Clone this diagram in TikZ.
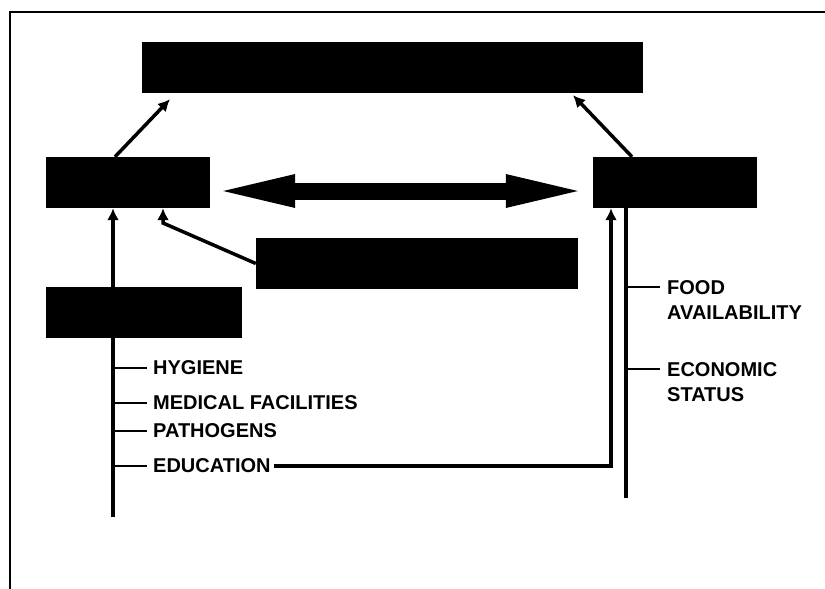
\documentclass[tikz,border=0pt]{standalone}
\usepackage{fontspec}
\setmainfont{Liberation Sans}
\usetikzlibrary{arrows.meta}

\tikzset{
  blk/.style={fill=black, inner sep=0pt, minimum height=51pt},
  lbl/.style={font=\bfseries\fontsize{20}{25}\selectfont, inner sep=0pt, align=left},
  stem/.style={line width=3.5pt},
  tick/.style={line width=2.2pt},
}

\begin{document}
\begin{tikzpicture}[x=1pt, y=-1pt, >={Latex[length=12pt, width=12pt]}]
\useasboundingbox (0,0) rectangle (825,589);
% cadre
\draw[line width=2.2pt] (10,589) -- (10,12) -- (825,12);

% boites
\node[blk, minimum width=501pt] (top) at (392.5,67.5) {};
\node[blk, minimum width=164pt] (lhs) at (128,182.5) {};
\node[blk, minimum width=164pt] (rhs) at (675,182.5) {};
\node[blk, minimum width=322pt] (mid) at (417,263.5) {};
\node[blk, minimum width=196pt] (base) at (144,312.5) {};

% fleches vers le haut
\draw[stem,->] ([xshift=-13pt]lhs.north) -- ([shift={(-222.5,6)}]top.south);
\draw[stem,->] ([xshift=-43pt]rhs.north) -- ([shift={(180.5,2)}]top.south);

% double fleche
\draw[line width=17pt, {Triangle[length=72pt, width=34pt, line width=0pt]}-{Triangle[length=72pt, width=34pt, line width=0pt]},
      shorten <=13pt, shorten >=15pt] ([yshift=-8.5pt]lhs.east) -- ([yshift=-8.5pt]rhs.west);

% colonne de gauche
\coordinate (lstem) at (113,517);
\draw[stem,->] (lstem) -- (lstem |- lhs.south);
\coordinate (bend) at (163,223);
\draw[stem,->] (mid.west) -- (bend) -- (bend |- lhs.south);

\foreach \nm/\y/\txt in {hyg/368/HYGIENE, med/403/MEDICAL FACILITIES, path/431/PATHOGENS, edu/466/EDUCATION} {
  \node[lbl, anchor=west] (\nm) at (153,\y) {\txt};
  \draw[tick] (lstem |- \nm.west) -- ([xshift=-6pt]\nm.west);
}
\draw[stem,->] ([xshift=3pt]edu.east) -| ([xshift=-64pt]rhs.south);

% colonne de droite
\coordinate (rstem) at (626,498);
\draw[stem] (rstem |- rhs.south) -- (rstem);
\node[lbl, anchor=north west] (food) at (667,280) {FOOD\\AVAILABILITY};
\node[lbl, anchor=north west] (econ) at (667,362) {ECONOMIC\\STATUS};
\draw[tick] (food.north west) ++(-7,7) -- ++(-33,0);
\draw[tick] (econ.north west) ++(-7,7) -- ++(-33,0);
\end{tikzpicture}
\end{document}
